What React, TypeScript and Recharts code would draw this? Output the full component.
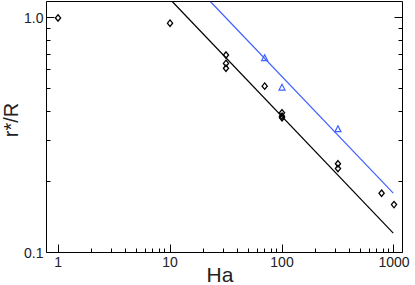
import { ScatterChart, Scatter, XAxis, YAxis, Label } from "recharts";

const X_MAJOR = [1, 10, 100, 1000];
const X_TICKS = [
  1, 2, 3, 4, 5, 6, 7, 8, 9, 10, 20, 30, 40, 50, 60, 70, 80, 90, 100, 200, 300,
  400, 500, 600, 700, 800, 900, 1000,
];
const Y_MAJOR = [0.1, 1.0];
const Y_LABELS: Record<string, string> = { "0.1": "0.1", "1": "1.0" };
const Y_TICKS = [0.1, 0.2, 0.3, 0.4, 0.5, 0.6, 0.7, 0.8, 0.9, 1.0];

const diamondHa = [1, 10, 31.6, 31.6, 31.6, 70, 100, 100, 100, 316, 316, 775, 1000];
const diamondR = [1.0, 0.95, 0.695, 0.64, 0.61, 0.512, 0.394, 0.381, 0.375, 0.239, 0.228, 0.179, 0.16];

const triangleHa = [70, 100, 316];
const triangleR = [0.673, 0.504, 0.335];

// power-law fits, endpoints only
const blackFitHa = [10.46, 985];
const blackFitR = [1.175, 0.121];
const blueFitHa = [22.9, 985];
const blueFitR = [1.175, 0.179];

const X_DOMAIN = [0.789, 1191];
const Y_DOMAIN = [0.1, 1.175];

const BLUE = "#4060ff";
const FONT = "'Liberation Sans', Arial, sans-serif";

const toPoints = (ha: number[], r: number[]) => ha.map((h, i) => ({ ha: h, r: r[i] }));

const diamonds = toPoints(diamondHa, diamondR);
const triangles = toPoints(triangleHa, triangleR);
const blackFit = toPoints(blackFitHa, blackFitR);
const blueFit = toPoints(blueFitHa, blueFitR);

// snap 1px tick lines to the pixel grid so they stay crisp
const snap = (v: number) => Math.floor(v) + 0.5;

const makeXTick = (top: boolean) => (props: any) => {
  const { x, y, payload } = props;
  const v = payload.value;
  const major = X_MAJOR.includes(v);
  const len = major ? 8 : 4;
  const dir = top ? 1 : -1;
  const lx = snap(x);
  return (
    <g>
      <line x1={lx} x2={lx} y1={y} y2={y + dir * len} stroke="#000" strokeWidth={1} />
      {!top && major && (
        <text x={x} y={y + 14.5} textAnchor="middle" fontSize={14} fill="#222" fontFamily={FONT}>
          {v}
        </text>
      )}
    </g>
  );
};

const makeYTick = (right: boolean) => (props: any) => {
  const { x, y, payload } = props;
  const v = payload.value;
  const major = Y_MAJOR.some((m) => Math.abs(m - v) < 1e-9);
  const len = major ? 8 : 4;
  const dir = right ? -1 : 1;
  const ly = snap(y);
  return (
    <g>
      <line x1={x} x2={x + dir * len} y1={ly} y2={ly} stroke="#000" strokeWidth={1} />
      {!right && major && (
        <text x={x - 3} y={y + 5} textAnchor="end" fontSize={14} fill="#222" fontFamily={FONT}>
          {Y_LABELS[String(v)]}
        </text>
      )}
    </g>
  );
};

const Diamond = (props: any) => {
  const { cx, cy } = props;
  return (
    <path
      d={`M${cx} ${cy - 3.2} L${cx + 2.6} ${cy} L${cx} ${cy + 3.2} L${cx - 2.6} ${cy} Z`}
      fill="none"
      stroke="#000"
      strokeWidth={1.3}
    />
  );
};

const Triangle = (props: any) => {
  const { cx, cy } = props;
  return (
    <path
      d={`M${cx} ${cy - 3.5} L${cx + 3} ${cy + 2.3} L${cx - 3} ${cy + 2.3} Z`}
      fill="none"
      stroke={BLUE}
      strokeWidth={1.2}
    />
  );
};

const NoDot = () => <g />;

export default function App() {
  return (
    <div style={{ position: "absolute", left: 0, top: 0, background: "#fff" }}>
      <ScatterChart
        width={415}
        height={285}
        margin={{ top: -8.5, right: 2.5, bottom: 0.5, left: 0.5 }}
      >
        <XAxis
          dataKey="ha"
          type="number"
          scale="log"
          domain={X_DOMAIN}
          allowDataOverflow
          ticks={X_TICKS}
          interval={0}
          height={32}
          tickSize={0}
          tickMargin={0}
          tickLine={false}
          axisLine={{ stroke: "#000", strokeWidth: 1 }}
          tick={makeXTick(false)}
        >
          <Label
            content={() => (
              <text x={220} y={282} textAnchor="middle" fontSize={21} fill="#222" fontFamily={FONT}>
                Ha
              </text>
            )}
          />
        </XAxis>
        <XAxis
          xAxisId="top"
          orientation="top"
          type="number"
          scale="log"
          domain={X_DOMAIN}
          allowDataOverflow
          ticks={X_TICKS}
          interval={0}
          height={10}
          tickSize={0}
          tickMargin={0}
          tickLine={false}
          axisLine={{ stroke: "#000", strokeWidth: 1 }}
          tick={makeXTick(true)}
        />
        <YAxis
          dataKey="r"
          type="number"
          scale="log"
          domain={Y_DOMAIN}
          allowDataOverflow
          ticks={Y_TICKS}
          interval={0}
          width={46}
          tickSize={0}
          tickMargin={0}
          tickLine={false}
          axisLine={{ stroke: "#000", strokeWidth: 1 }}
          tick={makeYTick(false)}
        >
          <Label
            content={() => (
              <text
                x={18}
                y={120}
                textAnchor="middle"
                fontSize={20}
                fill="#222"
                fontFamily={FONT}
                transform="rotate(-90, 18, 120)"
              >
                r*/R
              </text>
            )}
          />
        </YAxis>
        <YAxis
          yAxisId="right"
          orientation="right"
          type="number"
          scale="log"
          domain={Y_DOMAIN}
          allowDataOverflow
          ticks={Y_TICKS}
          interval={0}
          width={10}
          tickSize={0}
          tickMargin={0}
          tickLine={false}
          axisLine={{ stroke: "#000", strokeWidth: 1 }}
          tick={makeYTick(true)}
        />
        <Scatter
          data={blackFit}
          line={{ stroke: "#000", strokeWidth: 1.2 }}
          shape={NoDot}
          isAnimationActive={false}
        />
        <Scatter
          data={blueFit}
          line={{ stroke: BLUE, strokeWidth: 1.2 }}
          shape={NoDot}
          isAnimationActive={false}
        />
        <Scatter data={diamonds} shape={Diamond} isAnimationActive={false} />
        <Scatter data={triangles} shape={Triangle} isAnimationActive={false} />
      </ScatterChart>
    </div>
  );
}
